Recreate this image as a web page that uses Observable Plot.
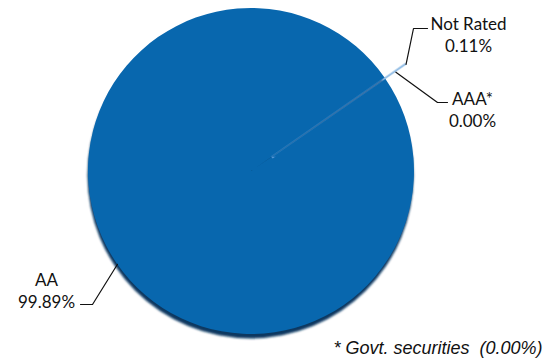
<!DOCTYPE html>
<html><head><meta charset="utf-8">
<script src="https://cdn.jsdelivr.net/npm/d3@7"></script>
<script src="https://cdn.jsdelivr.net/npm/@observablehq/plot@0.6"></script>
<style>html,body{margin:0;padding:0;background:#fff} svg{display:block}</style>
</head><body><div id="chart"></div>
<script>
// ---- data ----
const ratings = ["Not Rated", "AAA*", "AA"];
const shares = [0.11, 0.00, 99.89];
const shareLabels = ["0.11%", "0.00%", "99.89%"];
const footnote = "* Govt. securities  (0.00%)";

// ---- layout / style ----
const W = 546, H = 360;
const CX = 251, CY = 171, R = 163;           // pie centre and radius in pixels
const startDeg = 55.1;                        // rotation of first slice (clockwise from 12 o'clock)
const colors = {"Not Rated": "#5a9ad8", "AAA*": "#2f75b5", "AA": "#0867ae"};
const explodePx = {"Not Rated": 25};
const fontLabel = "Lato, 'Open Sans', sans-serif";

const rows = ratings.map((r, i) => ({rating: r, share: shares[i], pct: shareLabels[i]}));
const arcs = d3.pie().sort(null).value(d => d.share)
  .startAngle(startDeg * Math.PI / 180)
  .endAngle(startDeg * Math.PI / 180 + 2 * Math.PI)(rows);
const byName = Object.fromEntries(arcs.map(a => [a.data.rating, a]));

// convert pixel layout to data units (x,y in radius units, y up)
const toData = (px, py) => [(px - CX) / R, (CY - py) / R];
const polar = (ang, k) => [Math.sin(ang) * k, Math.cos(ang) * k];
const mid = a => (a.startAngle + a.endAngle) / 2;

// leader lines: start on the slice, then elbow, then end (pixel offsets are layout only)
const leaderDefs = [
  {rating: "Not Rated", k: (R + explodePx["Not Rated"]) / R, elbow: [413, 28], end: [427, 28], text: [468, 33.5]},
  {rating: "AAA*", k: 1.075, elbow: [437, 102], end: [447, 102], text: [472, 108.5]},
  {rating: "AA", k: 1.0, elbow: [92, 304], end: [80, 304], text: [46, 289]}
];
const leaderPts = [];
const labelRows = [];
for (const L of leaderDefs) {
  const a = byName[L.rating];
  const ang = L.rating === "AAA*" ? a.startAngle : mid(a);
  const s = polar(ang, L.k);
  const e1 = toData(...L.elbow), e2 = toData(...L.end);
  [s, e1, e2].forEach(p => leaderPts.push({rating: L.rating, x: p[0], y: p[1]}));
  const t = toData(...L.text);
  labelRows.push({text: a.data.rating + "\n" + a.data.pct, x: t[0], y: t[1]});
}
const fn = toData(542, 348);

const pieMark = (...args) => {
  const scales = args.find(a => a && typeof a.x === "function" && typeof a.y === "function");
  const cx = scales.x(0), cy = scales.y(0), r = scales.x(1) - scales.x(0);
  const g = d3.create("svg:g");
  const defs = g.append("defs");
  defs.append("filter").attr("id", "sh").attr("x", "-10%").attr("y", "-10%").attr("width", "120%").attr("height", "120%")
    .append("feGaussianBlur").attr("stdDeviation", 1.3);
  const mask = defs.append("mask").attr("id", "outside");
  mask.append("rect").attr("x", 0).attr("y", 0).attr("width", W).attr("height", H).attr("fill", "#fff");
  mask.append("circle").attr("cx", cx).attr("cy", cy).attr("r", r - 0.5).attr("fill", "#000");
  // shadow / side of the pie
  g.append("circle").attr("cx", cx - 0.5).attr("cy", cy + 4.5).attr("r", r)
    .attr("fill", "#0a3761").attr("filter", "url(#sh)");
  const arc = d3.arc().innerRadius(0).outerRadius(r);
  const order = arcs.slice().sort((a, b) => (explodePx[a.data.rating] ? 1 : 0) - (explodePx[b.data.rating] ? 1 : 0));
  for (const a of order) {
    if (a.data.share <= 0) continue;
    const off = explodePx[a.data.rating] || 0;
    const m = mid(a);
    const dx = Math.sin(m) * off, dy = -Math.cos(m) * off;
    const tr = `translate(${cx + dx},${cy + dy})`;
    if (!off) {
      g.append("path").attr("d", arc(a)).attr("transform", tr).attr("fill", colors[a.data.rating]);
    } else {
      // faint part lying over the pie
      g.append("path").attr("d", arc(a)).attr("transform", tr)
        .attr("fill", colors[a.data.rating]).attr("fill-opacity", 0.5)
        .attr("stroke", colors[a.data.rating]).attr("stroke-opacity", 0.35)
        .attr("stroke-width", 1.6).attr("stroke-linejoin", "round");
      // exploded part sticking out beyond the rim
      g.append("path").attr("d", arc(a)).attr("transform", tr)
        .attr("mask", "url(#outside)")
        .attr("fill", colors[a.data.rating])
        .attr("stroke", colors[a.data.rating]).attr("stroke-width", 4).attr("stroke-linejoin", "miter");
    }
  }
  return g.node();
};

const chart = Plot.plot({
  width: W, height: H,
  x: {domain: [-1, 1], range: [CX - R, CX + R], axis: null},
  y: {domain: [-1, 1], range: [CY + R, CY - R], axis: null},
  style: {background: "#fff"},
  marks: [
    pieMark,
    Plot.line(leaderPts, {x: "x", y: "y", z: "rating", stroke: "#111", strokeWidth: 1.2, curve: "linear"}),
    Plot.text(labelRows, {x: "x", y: "y", text: "text", fontSize: 17, lineHeight: 1.3,
      textAnchor: "middle", lineAnchor: "middle", fill: "#111", fontFamily: fontLabel}),
    Plot.text([footnote], {x: () => fn[0], y: () => fn[1], text: d => d, textAnchor: "end", lineAnchor: "middle",
      fontSize: 18, fontStyle: "italic", fill: "#111", fontFamily: "'Liberation Sans', Arial, sans-serif"})
  ]
});
document.getElementById("chart").appendChild(chart);
</script>
</body></html>
